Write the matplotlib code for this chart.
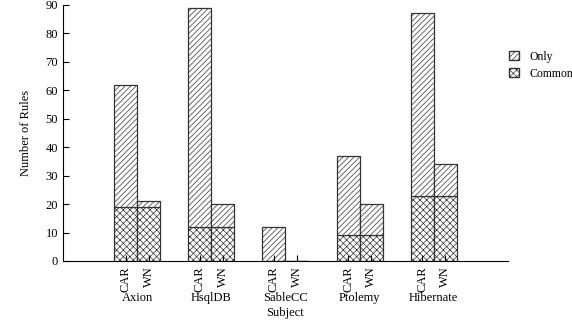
import numpy as np
import matplotlib.pyplot as plt
from matplotlib.patches import Patch

plt.rcParams['font.family'] = ['Liberation Serif', 'DejaVu Serif']
plt.rcParams['hatch.linewidth'] = 0.5
plt.rcParams['hatch.color'] = '#555555'

subjects = ['Axion', 'HsqlDB', 'SableCC', 'Ptolemy', 'Hibernate']
tools = ['CAR', 'WN']
# totals and common counts per subject, per tool
car_total = [62, 89, 12, 37, 87]
car_common = [19, 12, 0, 9, 23]
wn_total = [21, 20, 0, 20, 34]
wn_common = [19, 12, 0, 9, 23]

car_only = np.array(car_total) - np.array(car_common)
wn_only = np.array(wn_total) - np.array(wn_common)

fig = plt.figure(figsize=(5.72, 3.23), dpi=100)
ax = fig.add_axes([0.110, 0.192, 0.778, 0.793])

x = np.arange(len(subjects))
w = 0.31
edge = '#333333'

ax.bar(x - w / 2, car_common, w, color='white', edgecolor=edge, hatch='xxxxx', lw=0.9)
ax.bar(x - w / 2, car_only, w, bottom=car_common, color='white', edgecolor=edge, hatch='//////', lw=0.9)
ax.bar(x + w / 2, wn_common, w, color='white', edgecolor=edge, hatch='xxxxx', lw=0.9)
ax.bar(x + w / 2, wn_only, w, bottom=wn_common, color='white', edgecolor=edge, hatch='//////', lw=0.9)

ax.set_xlim(-1, 5)
ax.set_ylim(0, 90)
ax.set_yticks(range(0, 91, 10))
ax.spines['top'].set_visible(False)
ax.spines['right'].set_visible(False)
ax.tick_params(direction='in', length=4, labelsize=9)

pos = np.concatenate([x - w / 2, x + w / 2])
labs = [tools[0]] * len(x) + [tools[1]] * len(x)
ax.set_xticks(pos)
ax.set_xticklabels(labs, rotation=90, va='top', ha='center')
ax.tick_params(axis='x', pad=4)

for xi, name in zip(x, subjects):
    ax.annotate(name, xy=(xi, 0), xycoords=('data', 'axes fraction'),
                xytext=(0, -27), textcoords='offset points',
                ha='center', va='center', fontsize=9)
ax.annotate('Subject', xy=(2, 0), xycoords=('data', 'axes fraction'),
            xytext=(0, -37.5), textcoords='offset points',
            ha='center', va='center', fontsize=9)

ax.set_ylabel('Number of Rules', fontsize=9, labelpad=10)

handles = [Patch(facecolor='white', edgecolor=edge, hatch='//////', label='Only'),
           Patch(facecolor='white', edgecolor=edge, hatch='xxxxx', label='Common')]
fig.legend(handles=handles, loc='upper left', bbox_to_anchor=(0.872, 0.875),
           frameon=False, fontsize=8.5, handlelength=0.8, handleheight=0.8,
           handletextpad=0.9, labelspacing=0.4)

fig.savefig('out.png', dpi=100)
